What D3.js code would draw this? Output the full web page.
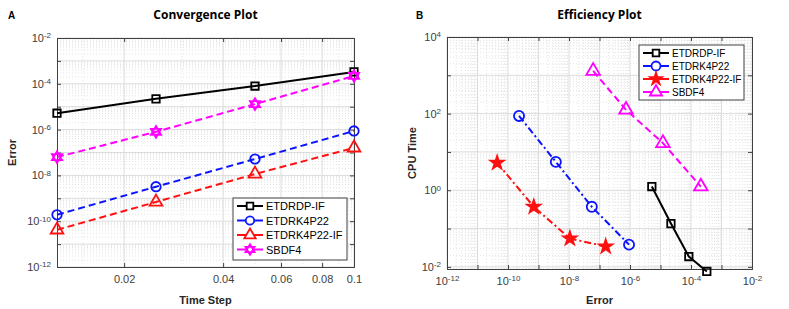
<!DOCTYPE html>
<html>
<head>
<meta charset="utf-8">
<script src="https://d3js.org/d3.v7.min.js"></script>
<style>
  body { margin: 0; background: #fff; }
  text { font-family: "Liberation Sans", Arial, sans-serif; }
  .tick text { fill: #404040; font-size: 11px; }
  .tick line { stroke: #404040; }
  .domain { stroke: #404040; }
</style>
</head>
<body>
<script>
// ---- data: convergence plot ----
var steps = [0.0125, 0.025, 0.05, 0.1];
var convNames = ["ETDRDP-IF", "ETDRK4P22", "ETDRK4P22-IF", "SBDF4"];
var errDP    = [5.2e-6, 2.2e-5, 8.0e-5, 3.3e-4];
var errRK    = [1.9e-10, 3.2e-9, 5.2e-8, 8.7e-7];
var errRKIF  = [4.2e-11, 6.9e-10, 1.15e-8, 1.6e-7];
var errSBDF  = [6.3e-8, 8.0e-7, 1.3e-5, 2.2e-4];
var convXTicks = [0.02, 0.04, 0.06, 0.08, 0.1];

// ---- data: efficiency plot ----
var effNames = ["ETDRDP-IF", "ETDRK4P22", "ETDRK4P22-IF", "SBDF4"];
var effErrDP   = [5.2e-6, 2.2e-5, 8.5e-5, 3.3e-4];
var effCpuDP   = [1.25, 0.135, 0.0186, 0.0076];
var effErrRK   = [2.3e-10, 3.7e-9, 5.6e-8, 9.3e-7];
var effCpuRK   = [87, 5.5, 0.37, 0.038];
var effErrRKIF = [4.4e-11, 7.0e-10, 1.07e-8, 1.6e-7];
var effCpuRKIF = [5.2, 0.37, 0.055, 0.034];
var effErrSB   = [6.2e-8, 7.4e-7, 1.2e-5, 2.1e-4];
var effCpuSB   = [1300, 126, 17, 1.25];

var svg = d3.select("body").append("svg")
  .attr("width", 789).attr("height", 309);

var hexagram = {
  draw: function(ctx, size) {
    var r = Math.sqrt(size) * 0.62;
    for (var k = 0; k < 2; k++) {
      for (var i = 0; i < 3; i++) {
        var a = -Math.PI / 2 + k * Math.PI + i * 2 * Math.PI / 3;
        var px = r * Math.cos(a), py = r * Math.sin(a);
        if (i === 0) ctx.moveTo(px, py); else ctx.lineTo(px, py);
      }
      ctx.closePath();
    }
  }
};

function sup(sel, base, exp) {
  sel.text(null);
  sel.append("tspan").text(base);
  sel.append("tspan").attr("dy", "-0.45em").style("font-size", "8px").text(exp);
}

function panel(o) {
  var g = svg.append("g");
  var x = d3.scaleLog().domain(o.xDomain).range([o.left, o.right]);
  var y = d3.scaleLog().domain(o.yDomain).range([o.bottom, o.top]);

  // minor grid
  var xMinor = [], yMinor = [];
  o.xMinor.forEach(function(v) { if (v >= o.xDomain[0] && v <= o.xDomain[1]) xMinor.push(v); });
  var e0 = Math.floor(Math.log10(o.yDomain[0])), e1 = Math.ceil(Math.log10(o.yDomain[1]));
  for (var e = e0; e < e1; e++) for (var k = 2; k < 10; k++) {
    var v = k * Math.pow(10, e);
    if (v > o.yDomain[0] && v < o.yDomain[1]) yMinor.push(v);
  }
  g.selectAll(".xmin").data(xMinor).join("line")
    .attr("x1", x).attr("x2", x).attr("y1", o.top).attr("y2", o.bottom)
    .attr("stroke", "#e4e4e4").attr("stroke-dasharray", "1,2");
  g.selectAll(".ymin").data(yMinor).join("line")
    .attr("y1", y).attr("y2", y).attr("x1", o.left).attr("x2", o.right)
    .attr("stroke", "#e4e4e4").attr("stroke-dasharray", "1,2");
  // major grid
  g.selectAll(".xmaj").data(o.xMajor).join("line")
    .attr("x1", x).attr("x2", x).attr("y1", o.top).attr("y2", o.bottom)
    .attr("stroke", "#dcdcdc");
  g.selectAll(".ymaj").data(o.yMajor).join("line")
    .attr("y1", y).attr("y2", y).attr("x1", o.left).attr("x2", o.right)
    .attr("stroke", "#dcdcdc");

  // axes, ticks inward
  var ax = g.append("g").attr("transform", "translate(0," + o.bottom + ")")
    .call(d3.axisBottom(x).tickValues(o.xMajor).tickSize(-4).tickPadding(8).tickFormat(o.xFormat));
  var ay = g.append("g").attr("transform", "translate(" + o.left + ",0)")
    .call(d3.axisLeft(y).tickValues(o.yMajor).tickSize(-4).tickPadding(6).tickFormat(""));
  ay.selectAll(".tick text").each(function(d) {
    var ex = Math.round(Math.log10(d));
    if (ex % 2 === 0) sup(d3.select(this), "10", ex);
  });
  if (o.xSup) ax.selectAll(".tick text").each(function(d) {
    var ex = Math.round(Math.log10(d));
    if (ex % 2 === 0) sup(d3.select(this), "10", ex); else d3.select(this).text("");
  });
  g.append("g").attr("transform", "translate(0," + o.top + ")")
    .call(d3.axisTop(x).tickValues(o.xMajor).tickSize(-4).tickFormat(""));
  g.append("g").attr("transform", "translate(" + o.right + ",0)")
    .call(d3.axisRight(y).tickValues(o.yMajor).tickSize(-4).tickFormat(""));
  g.selectAll(".domain").attr("stroke", "#404040");

  // series
  o.series.forEach(function(s) {
    var pts = s.xs.map(function(v, i) { return [v, s.ys[i]]; });
    g.append("path").datum(pts)
      .attr("fill", "none").attr("stroke", s.color).attr("stroke-width", 2)
      .attr("stroke-dasharray", s.dash)
      .attr("d", d3.line().x(function(d) { return x(d[0]); }).y(function(d) { return y(d[1]); }));
    g.selectAll(null).data(pts).join("path")
      .attr("transform", function(d) { return "translate(" + x(d[0]) + "," + y(d[1]) + ")"; })
      .attr("d", d3.symbol().type(s.symbol).size(s.size))
      .attr("fill", s.fill).attr("stroke", s.color).attr("stroke-width", 1.8);
  });

  // legend
  var L = o.legend;
  g.append("rect").attr("x", L.x).attr("y", L.y).attr("width", L.w).attr("height", L.h)
    .attr("fill", "#fff").attr("stroke", "#404040").attr("stroke-width", 1);
  o.series.forEach(function(s, i) {
    var cy = L.y + 8 + i * L.dy;
    g.append("line").attr("x1", L.x + 4).attr("x2", L.x + 30).attr("y1", cy).attr("y2", cy)
      .attr("stroke", s.color).attr("stroke-width", 2);
    g.append("path").attr("transform", "translate(" + (L.x + 17) + "," + cy + ")")
      .attr("d", d3.symbol().type(s.symbol).size(s.size * 0.8))
      .attr("fill", s.fill === "none" ? "#fff" : s.fill).attr("stroke", s.color).attr("stroke-width", 1.8);
    g.append("text").attr("x", L.x + 33).attr("y", cy + 4)
      .style("font-size", L.fs + "px").attr("fill", "#000").text(s.name);
  });

  // titles
  g.append("text").attr("x", (o.left + o.right) / 2).attr("y", 19).attr("text-anchor", "middle")
    .style("font-family", "'Open Sans', sans-serif").style("font-weight", "bold").style("font-size", "12px")
    .text(o.title);
  g.append("text").attr("x", o.letterX).attr("y", 19)
    .style("font-weight", "bold").style("font-size", "10px").text(o.letter);
  g.append("text").attr("x", (o.left + o.right) / 2).attr("y", 304).attr("text-anchor", "middle")
    .style("font-weight", "bold").style("font-size", "11px").attr("fill", "#262626").text(o.xLabel);
  g.append("text").attr("transform", "translate(" + o.yLabelX + "," + ((o.top + o.bottom) / 2) + ") rotate(-90)")
    .attr("text-anchor", "middle")
    .style("font-weight", "bold").style("font-size", "11px").attr("fill", "#262626").text(o.yLabel);
}

function decades(a, b) { var r = []; for (var e = a; e <= b; e++) r.push(Math.pow(10, e)); return r; }
function decMinor(a, b) { var r = []; for (var e = a; e < b; e++) for (var k = 2; k < 10; k++) r.push(k * Math.pow(10, e)); return r; }

panel({
  left: 57, right: 354, top: 38, bottom: 267,
  xDomain: [0.0125, 0.1], yDomain: [1e-12, 1e-2],
  xMajor: convXTicks, xMinor: [0.015, 0.03, 0.05, 0.07, 0.09],
  xFormat: function(d) { return d === 0.1 ? "0.1" : d3.format(".2f")(d); },
  yMajor: decades(-12, -2),
  title: "Convergence Plot", letter: "A", letterX: 8,
  xLabel: "Time Step", yLabel: "Error", yLabelX: 16,
  legend: { x: 233, y: 198, w: 114, h: 62, dy: 14.5, fs: 11 },
  series: [
    { name: convNames[0], xs: steps, ys: errDP,   color: "#000",    dash: null,  symbol: d3.symbolSquare,   size: 55, fill: "none" },
    { name: convNames[1], xs: steps, ys: errRK,   color: "#0a14ff", dash: "7,4", symbol: d3.symbolCircle,   size: 70, fill: "none" },
    { name: convNames[2], xs: steps, ys: errRKIF, color: "#ff1010", dash: "7,4", symbol: d3.symbolTriangle, size: 70, fill: "none" },
    { name: convNames[3], xs: steps, ys: errSBDF, color: "#ff00ff", dash: "7,4", symbol: hexagram,          size: 90, fill: "none" }
  ]
});

panel({
  left: 447, right: 752, top: 37, bottom: 269,
  xDomain: [1e-12, 1e-2], yDomain: [0.0088, 1e4],
  xMajor: decades(-12, -2), xMinor: decMinor(-12, -2), xSup: true,
  xFormat: function() { return ""; },
  yMajor: decades(-2, 4),
  title: "Efficiency Plot", letter: "B", letterX: 416,
  xLabel: "Error", yLabel: "CPU Time", yLabelX: 416,
  legend: { x: 639, y: 45, w: 105, h: 55, dy: 13, fs: 10 },
  series: [
    { name: effNames[0], xs: effErrDP,   ys: effCpuDP,   color: "#000",    dash: null,        symbol: d3.symbolSquare,   size: 55, fill: "none" },
    { name: effNames[1], xs: effErrRK,   ys: effCpuRK,   color: "#0a14ff", dash: "7,3,2,3",   symbol: d3.symbolCircle,   size: 80, fill: "none" },
    { name: effNames[2], xs: effErrRKIF, ys: effCpuRKIF, color: "#ff1010", dash: "7,3,2,3",   symbol: d3.symbolStar,     size: 55, fill: "#ff1010" },
    { name: effNames[3], xs: effErrSB,   ys: effCpuSB,   color: "#ff00ff", dash: "7,4",       symbol: d3.symbolTriangle, size: 80, fill: "none" }
  ]
});
</script>
</body>
</html>
